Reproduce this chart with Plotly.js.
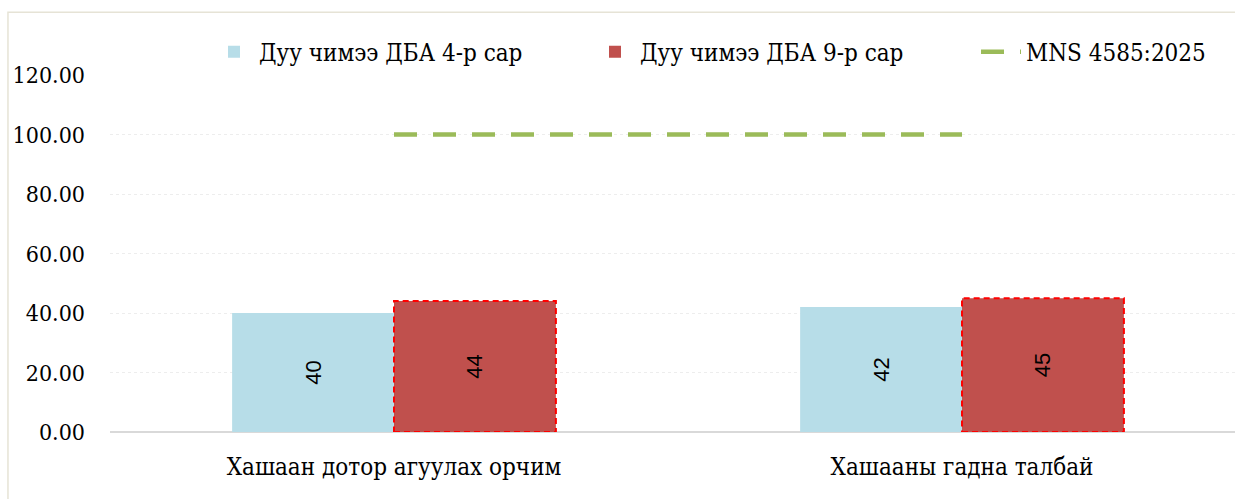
<!DOCTYPE html>
<html><head><meta charset="utf-8">
<script src="https://cdn.plot.ly/plotly-3.0.1.min.js"></script>
<style>body{margin:0;background:#fff}#c{width:1235px;height:499px}</style>
</head><body><div id="c"></div>
<script>
const categories = ["Хашаан дотор агуулах орчим", "Хашааны гадна талбай"];
const aprilValues = [40, 42];
const septValues = [44, 45];
const standardValues = [100, 100];
const seriesNames = ["Дуу чимээ ДБА 4-р сар", "Дуу чимээ ДБА 9-р сар", "MNS 4585:2025"];
const yTicks = [0, 20, 40, 60, 80, 100, 120];

const idx = categories.map((c, i) => i);
const W = 0.285;
const serif = "DejaVu Serif Condensed";

const traces = [
  {type: "bar", name: seriesNames[0], x: idx, y: aprilValues, width: W, offset: -W,
   marker: {color: "#B7DDE8", line: {width: 0}},
   text: aprilValues.map(String), textposition: "inside", insidetextanchor: "middle",
   textangle: -90, textfont: {family: "Liberation Sans", size: 22, color: "#000"},
   hoverinfo: "y", legend: "legend"},
  {type: "bar", name: seriesNames[1], x: idx, y: septValues, width: W, offset: 0,
   marker: {color: "#C0504D", line: {width: 0}},
   text: septValues.map(String), textposition: "inside", insidetextanchor: "middle",
   textangle: -90, textfont: {family: "Liberation Sans", size: 22, color: "#000"},
   hoverinfo: "y", legend: "legend"},
  {type: "scatter", mode: "lines", name: seriesNames[2], x: idx, y: standardValues,
   line: {color: "#9BBB59", width: 4.5, dash: "23px,16px"}, legend: "legend2"}
];

const shapes = septValues.map((v, i) => ({
  type: "rect", xref: "x", yref: "y", x0: idx[i], x1: idx[i] + W, y0: 0, y1: v,
  line: {color: "#FF0000", width: 2, dash: "6px,4px"}, fillcolor: "rgba(0,0,0,0)", layer: "above"
}));
shapes.push({type: "rect", xref: "paper", yref: "paper", x0: -0.0907, x1: 1.2, y0: -0.5, y1: 1.176,
  line: {color: "#E6E3D6", width: 1.5}, fillcolor: "rgba(0,0,0,0)", layer: "below"});

const legendFont = {family: serif, size: 24, color: "#000"};
const layout = {
  width: 1235, height: 499,
  margin: {l: 110, r: 0, t: 75, b: 67},
  paper_bgcolor: "#fff", plot_bgcolor: "#fff",
  showlegend: true,
  legend: {orientation: "h", x: 0.088, xanchor: "left", y: 1.064, yanchor: "middle",
    font: legendFont, itemwidth: 40, entrywidth: 326,
    traceorder: "normal", bgcolor: "rgba(0,0,0,0)"},
  legend2: {orientation: "h", x: 0.7698, xanchor: "left", y: 1.064, yanchor: "middle",
    font: legendFont, itemwidth: 40, bgcolor: "rgba(0,0,0,0)"},
  bargap: 0.43,
  xaxis: {range: [-0.5, 1.4806], tickvals: idx, ticktext: categories, showgrid: false,
    zeroline: false, showline: false, ticks: "",
    tickfont: {family: serif, size: 24, color: "#000"}, ticklabelstandoff: 18},
  yaxis: {range: [0, 120], tickvals: yTicks, tickformat: ".2f", showgrid: true,
    gridcolor: "#EDEDED", gridwidth: 1, griddash: "dot", zeroline: true, zerolinecolor: "#D9D9D9",
    zerolinewidth: 2, showline: false, ticks: "",
    tickfont: {family: serif, size: 23, color: "#000"}, ticklabelstandoff: 24},
  shapes: shapes
};

Plotly.newPlot("c", traces, layout, {displayModeBar: false, staticPlot: true});
</script>
</body></html>
